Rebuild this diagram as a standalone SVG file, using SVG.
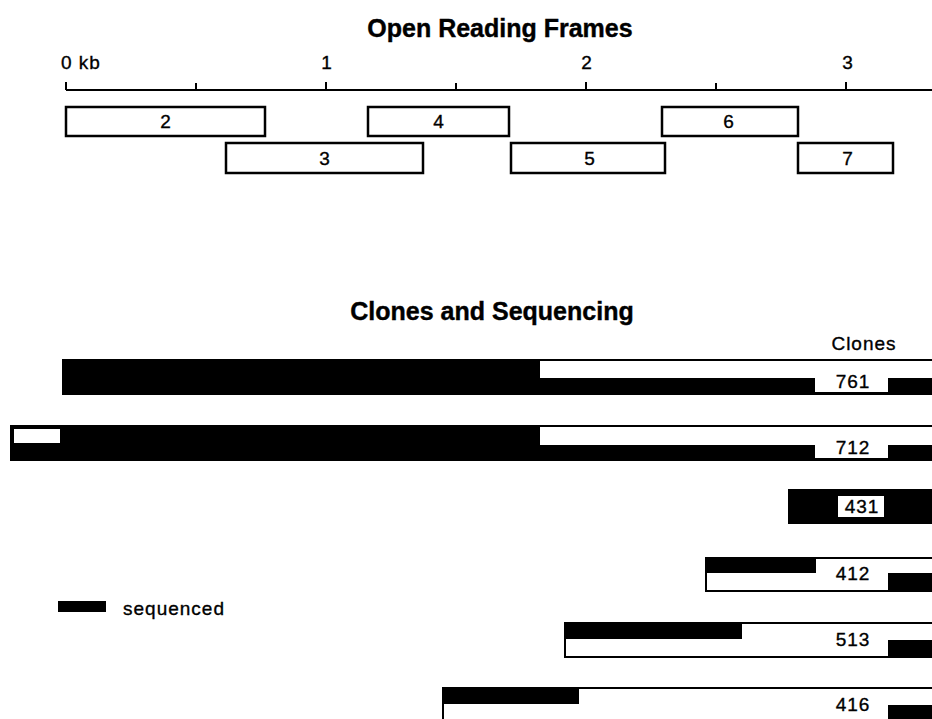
<svg xmlns="http://www.w3.org/2000/svg" width="932" height="719" viewBox="0 0 932 719">
<style>
.title{font-family:"Liberation Sans",Arial,sans-serif;font-weight:bold;font-size:25px;fill:#000;stroke:#000;stroke-width:0.4;text-anchor:middle}
.lbl{font-family:"Liberation Sans",Arial,sans-serif;font-size:19px;letter-spacing:1px;fill:#000;stroke:#000;stroke-width:0.35;text-anchor:middle}
.orf{fill:#fff;stroke:#000;stroke-width:2.5}
.blk{fill:#000}
.wht{fill:#fff}
.out{fill:#fff;stroke:#000;stroke-width:2}
.axis{stroke:#000;stroke-width:2;fill:none}
</style>
<rect width="932" height="719" fill="#fff"/>
<text class="title" x="500" y="37">Open Reading Frames</text>
<g id="axis">
<path class="axis" d="M66,90 H932 M66,82 V90 M196,83 V90 M326,82 V90 M456,83 V90 M586,82 V90 M716,83 V90 M846,82 V90"/>
<text class="lbl" x="61" y="69" style="text-anchor:start">0 kb</text>
<text class="lbl" x="327" y="69">1</text>
<text class="lbl" x="587" y="69">2</text>
<text class="lbl" x="848" y="69">3</text>
</g>
<g id="orf2"><rect class="orf" x="66" y="107" width="199" height="29"/><text class="lbl" x="166" y="128">2</text></g>
<g id="orf3"><rect class="orf" x="226" y="143" width="197" height="30"/><text class="lbl" x="325" y="165">3</text></g>
<g id="orf4"><rect class="orf" x="368" y="107" width="141" height="29"/><text class="lbl" x="439" y="128">4</text></g>
<g id="orf5"><rect class="orf" x="511" y="143" width="154" height="30"/><text class="lbl" x="590" y="165">5</text></g>
<g id="orf6"><rect class="orf" x="662" y="107" width="136" height="29"/><text class="lbl" x="729" y="128">6</text></g>
<g id="orf7"><rect class="orf" x="798" y="143" width="95" height="30"/><text class="lbl" x="848" y="165">7</text></g>

<text class="title" x="492" y="320">Clones and Sequencing</text>
<text class="lbl" x="864" y="350">Clones</text>

<g id="clone761">
<rect class="blk" x="62" y="359" width="870" height="36"/>
<rect class="wht" x="540" y="361" width="392" height="17"/>
<rect class="wht" x="815" y="377" width="73" height="15"/>
<text class="lbl" x="853" y="388">761</text>
</g>
<g id="clone712">
<rect class="blk" x="10" y="425" width="922" height="36"/>
<rect class="wht" x="14" y="429" width="46" height="14"/>
<rect class="wht" x="540" y="427" width="392" height="18"/>
<rect class="wht" x="815" y="444" width="73" height="14"/>
<text class="lbl" x="853" y="454">712</text>
</g>
<g id="clone431">
<rect class="blk" x="788" y="489" width="144" height="35"/>
<rect class="wht" x="838" y="496" width="46" height="21"/>
<text class="lbl" x="862" y="513">431</text>
</g>
<g id="clone412">
<rect class="out" x="706" y="558" width="230" height="33"/>
<rect class="blk" x="705" y="557" width="111" height="16"/>
<rect class="blk" x="888" y="573" width="44" height="19"/>
<text class="lbl" x="853" y="580">412</text>
</g>
<g id="clone513">
<rect class="out" x="565" y="623" width="371" height="34"/>
<rect class="blk" x="564" y="622" width="178" height="17"/>
<rect class="blk" x="888" y="640" width="44" height="18"/>
<text class="lbl" x="853" y="646">513</text>
</g>
<g id="clone416">
<rect class="out" x="443" y="688" width="493" height="40"/>
<rect class="blk" x="442" y="687" width="137" height="17"/>
<rect class="blk" x="888" y="705" width="44" height="14"/>
<text class="lbl" x="853" y="711">416</text>
</g>
<g id="legend">
<rect class="blk" x="58" y="601" width="48" height="11"/>
<text class="lbl" x="123" y="615" style="text-anchor:start">sequenced</text>
</g>
</svg>
